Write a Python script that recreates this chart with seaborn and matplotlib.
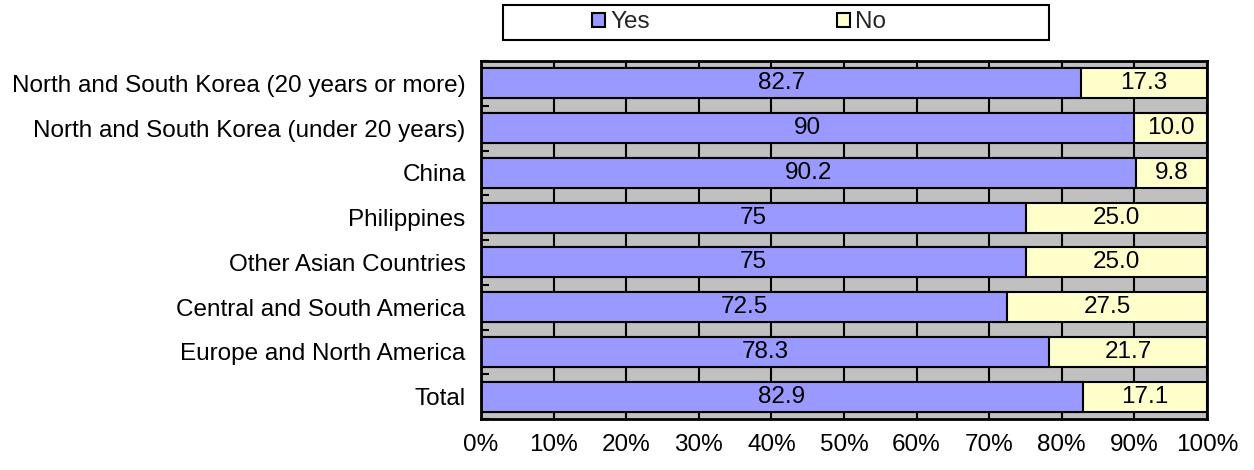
import matplotlib
matplotlib.use("Agg")
import matplotlib.pyplot as plt
import seaborn as sns
import pandas as pd
from matplotlib.patches import Rectangle, Patch

# Survey answers by region of origin (percent)
categories = [
    "North and South Korea (20 years or more)",
    "North and South Korea (under 20 years)",
    "China",
    "Philippines",
    "Other Asian Countries",
    "Central and South America",
    "Europe and North America",
    "Total",
]
yes_values = [82.7, 90, 90.2, 75, 75, 72.5, 78.3, 82.9]
no_values = [17.3, 10.0, 9.8, 25.0, 25.0, 27.5, 21.7, 17.1]
series_names = ["Yes", "No"]
x_ticks = [0, 10, 20, 30, 40, 50, 60, 70, 80, 90, 100]

YES_COLOR = "#9999FF"
NO_COLOR = "#FFFFCC"
BG_COLOR = "#C0C0C0"
FONT = 17.5

sns.set_theme(style="white")
plt.rcParams["font.family"] = ["Liberation Sans", "DejaVu Sans"]

df = pd.DataFrame({"category": categories, "yes": yes_values, "no": no_values})
df["total"] = df["yes"] + df["no"]

fig = plt.figure(figsize=(12.54, 4.70), dpi=100)
ax = fig.add_axes([481 / 1254, 1 - 419 / 470, (1207 - 481) / 1254, (419 - 61) / 470])
ax.set_facecolor(BG_COLOR)

bar_kw = dict(orient="h", width=0.67, saturation=1, edgecolor="black", linewidth=1.5, ax=ax)
# "No" segment spans the whole row; the "Yes" segment is drawn over it from zero
sns.barplot(data=df, y="category", x="total", color=NO_COLOR, **bar_kw)
sns.barplot(data=df, y="category", x="yes", color=YES_COLOR, **bar_kw)

for i, (y, n) in enumerate(zip(yes_values, no_values)):
    ax.text(y / 2, i, f"{y:g}", ha="center", va="center", fontsize=FONT, color="black")
    ax.text(y + n / 2, i, f"{n:.1f}", ha="center", va="center", fontsize=FONT, color="black")

ax.set_xlim(0, 100)
ax.set_ylim(len(categories) - 0.5, -0.5)
ax.set_xlabel("")
ax.set_ylabel("")

ax.set_axisbelow(True)
ax.xaxis.grid(True, color="black", linewidth=1.5)
ax.yaxis.grid(False)
ax.set_xticks(x_ticks, labels=[f"{t}%" for t in x_ticks])
ax.tick_params(axis="x", length=0, pad=11, labelsize=FONT, labelcolor="black")
ax.tick_params(axis="y", which="major", length=0, pad=11, labelsize=FONT, labelcolor="black")
ax.set_yticks([i - 0.5 for i in range(len(categories) + 1)], minor=True)
ax.tick_params(axis="y", which="minor", direction="in", length=6, width=1.5, color="black", left=True)

for side in ["left", "right", "top", "bottom"]:
    ax.spines[side].set_visible(True)
    ax.spines[side].set_color("black")
    ax.spines[side].set_linewidth(2)

# Legend box above the plot area
fig.patches.append(Rectangle((503 / 1254, 1 - 40 / 470), (1049 - 503) / 1254, 35 / 470,
                             transform=fig.transFigure, facecolor="white",
                             edgecolor="black", linewidth=1.5, zorder=0))
handles = [Patch(facecolor=YES_COLOR, edgecolor="black", linewidth=1.5),
           Patch(facecolor=NO_COLOR, edgecolor="black", linewidth=1.5)]
fig.legend(handles, series_names, loc="center left", bbox_to_anchor=(592 / 1254, 1 - 22.5 / 470),
           ncol=2, frameon=False, fontsize=FONT, borderpad=0, borderaxespad=0,
           handlelength=0.53, handleheight=0.53, handletextpad=0.22, columnspacing=7.7)

fig.savefig("out.png", dpi=100)
